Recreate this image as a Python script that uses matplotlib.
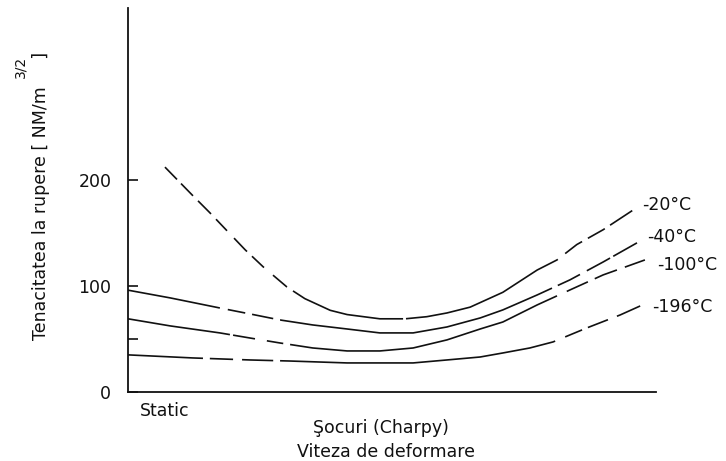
import numpy as np
import matplotlib
matplotlib.use("Agg")
import matplotlib.pyplot as plt

plt.rcParams["font.family"] = ["DejaVu Sans"]
plt.rcParams["lines.scale_dashes"] = False

# Fracture toughness versus loading rate, one curve per test temperature
temps = ["-20°C", "-40°C", "-100°C", "-196°C"]

x_m20 = [7.0, 12.1, 15.5, 18.75, 22.2, 25.6, 30.1, 33.5, 38.3, 41.5, 47.7, 52.5,
         56.6, 60.4, 64.8, 71.0, 77.5, 81.25, 85.0, 90.0, 95.5]
k_m20 = [212, 186, 169, 152, 134, 118, 99, 88, 77, 73, 69, 69,
         71, 74.5, 80, 94, 115, 124.5, 139, 153, 171]

x_m40 = [0, 8.0, 17.4, 23.1, 28.8, 35.0, 41.5, 47.7, 54.0, 60.4, 66.7, 71.0,
         77.5, 83.7, 90.0, 96.4]
k_m40 = [96, 88.7, 79.2, 73.6, 67.9, 63.2, 59.4, 55.7, 55.7, 61.3, 69.8, 77.4,
         91.5, 105.7, 122.6, 140.6]

x_m100 = [0, 8.0, 17.4, 23.1, 28.8, 35.0, 41.5, 47.7, 54.0, 60.4, 66.7, 71.0,
          77.5, 83.7, 90.0, 97.9]
k_m100 = [69, 62.3, 55.7, 50.9, 46.2, 41.5, 38.7, 38.7, 41.5, 49.1, 59.4, 66.0,
          82.1, 96.2, 110.4, 124.5]

x_m196 = [0, 12.3, 23.1, 30.7, 41.5, 54.0, 60.4, 66.7, 71.0, 76.1, 80.5, 86.9,
          93.2, 97.0]
k_m196 = [35, 32.1, 30.2, 29.2, 27.4, 27.4, 30.2, 33.0, 36.8, 41.5, 47.2, 60.4,
          72.6, 81.1]

y_ticks = [0, 50, 100, 200]
y_tick_labels = ["0", "", "100", "200"]
rate_labels = ["Static", "Şocuri (Charpy)"]

series = [(x_m20, k_m20), (x_m40, k_m40), (x_m100, k_m100), (x_m196, k_m196)]

# Breaks in each line (x ranges left blank), giving the hand-drawn dash look
breaks = {
    "-20°C": [(9.28, 10.04), (12.31, 13.26), (15.72, 16.67), (18.75, 20.08),
              (22.54, 23.48), (25.76, 27.46), (30.11, 31.25), (52.1, 52.65),
              (81.4, 82.8), (86.0, 87.1), (90.3, 91.3)],
    "-40°C": [(17.4, 18.9), (22.2, 23.5), (27.5, 28.8), (80.3, 81.4),
              (85.6, 86.9), (91.3, 91.9)],
    "-100°C": [(19.3, 19.9), (24.05, 26.3), (29.4, 30.7), (81.25, 83.1),
               (87.1, 88.4), (92.6, 94.1)],
    "-196°C": [(14.2, 15.5), (19.9, 21.6), (27.5, 28.8), (80.9, 82.8),
               (86.0, 87.1), (90.9, 92.6)],
}
label_pos = {"-20°C": (97.3, 176), "-40°C": (98.3, 146),
             "-100°C": (100.2, 120), "-196°C": (99.2, 80)}

DPI = 100
fig = plt.figure(figsize=(7.26, 4.61), dpi=DPI)
ax = fig.add_axes([128 / 726, 69 / 461, 528 / 726, 384 / 461])
ax.set_xlim(0, 100)
ax.set_ylim(0, 362)

for sp in ("top", "right"):
    ax.spines[sp].set_visible(False)
for sp in ("left", "bottom"):
    ax.spines[sp].set_linewidth(1.3)
    ax.spines[sp].set_color("#111111")


def dash_pattern(xs, ys, gaps):
    pts = ax.transData.transform(np.column_stack([xs, ys]))
    seg = np.hypot(np.diff(pts[:, 0]), np.diff(pts[:, 1]))
    s = np.concatenate([[0], np.cumsum(seg)])
    xp = pts[:, 0]
    def arc(xv):
        return np.interp(ax.transData.transform((xv, 0))[0], xp, s)
    seq = []
    prev = 0.0
    for g0, g1 in gaps:
        a, b = arc(g0), arc(g1)
        seq += [a - prev, b - a]
        prev = b
    seq += [s[-1] - prev + 50, 1]
    return [v * 72 / DPI for v in seq]


for name, (xs, ks) in zip(temps, series):
    pat = dash_pattern(xs, ks, breaks[name])
    ax.plot(xs, ks, color="#111111", lw=1.2, linestyle=(0, pat),
            solid_capstyle="butt", dash_capstyle="butt",
            solid_joinstyle="round", dash_joinstyle="round")
    lx, ly = label_pos[name]
    ax.text(lx, ly, name, fontsize=12.5, ha="left", va="center",
            color="#111111", clip_on=False)

ax.set_yticks(y_ticks)
ax.set_yticklabels(y_tick_labels, fontsize=12.5, color="#111111")
ax.tick_params(axis="y", direction="in", length=7, width=1.2, pad=12,
               colors="#111111")
ax.set_xticks([])

xa = ax.get_xaxis_transform()
ax.text(6.9, -0.049, rate_labels[0], transform=xa, ha="center", va="center",
        fontsize=12.5, color="#111111")
ax.text(47.9, -0.094, rate_labels[1], transform=xa, ha="center", va="center",
        fontsize=12.5, color="#111111")

fig.text(386 / 726, 9 / 461, "Viteza de deformare", ha="center", va="center",
         fontsize=12.5, color="#111111")
fig.text(41.5 / 726, (461 - 196) / 461, "Tenacitatea la rupere [ NM/m     ]",
         rotation=90, ha="center", va="center", fontsize=12.5, color="#111111")
fig.text(20 / 726, (461 - 67) / 461, "3/2", rotation=90, ha="center",
         va="center", fontsize=10, color="#111111")

fig.savefig("out.png", dpi=DPI, facecolor="white")
